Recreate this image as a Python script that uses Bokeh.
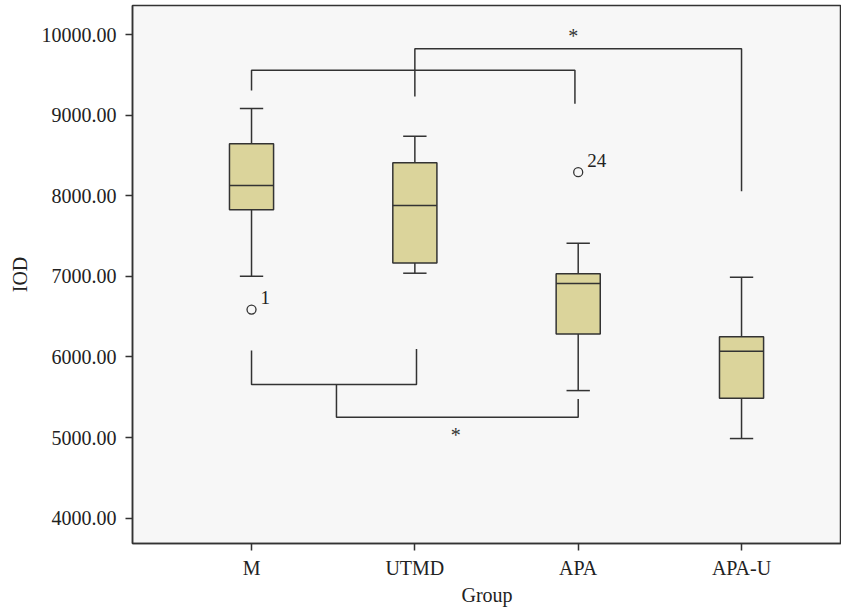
from bokeh.plotting import figure
from bokeh.models import FixedTicker, NumeralTickFormatter, ColumnDataSource
from bokeh.embed import file_html
from bokeh.resources import INLINE
from bokeh.core.properties import value

# ---- data ----
groups = ["M", "UTMD", "APA", "APA-U"]
xpos = [1, 2, 3, 4]
whisk_low = [7001, 7039, 5583, 4988]
q1 = [7825, 7167, 6284, 5489]
median = [8127, 7878, 6911, 6072]
q3 = [8644, 8408, 7031, 6250]
whisk_high = [9082, 8738, 7411, 6989]

outlier_x = [1, 3]
outlier_y = [6588, 8292]
outlier_label = ["1", "24"]

y_ticks = [4000, 5000, 6000, 7000, 8000, 9000, 10000]

# significance brackets (x in group positions, y in IOD units)
bracket_xs = [
    [2, 2, 4, 4],
    [1, 1, 2.98, 2.98],
    [1, 1, 2.01, 2.01],
    [1.52, 1.52, 3.0, 3.0],
]
bracket_ys = [
    [9231, 9823, 9823, 8056],
    [9305, 9557, 9557, 9140],
    [6079, 5658, 5658, 6100],
    [5658, 5252, 5252, 5480],
]
star_x = [2.97, 2.25]
star_y = [9985, 5030]

FONT = "Liberation Serif"
LINE = "#333333"
BOX = "#dbd49b"

p = figure(width=841, height=608, x_range=(0.2713, 4.612), y_range=(3686, 10360),
           output_backend="svg", toolbar_location=None,
           min_border_left=132, min_border_right=0, min_border_top=5, min_border_bottom=65)
p.background_fill_color = "#f7f7f7"
p.border_fill_color = "white"
p.outline_line_color = LINE
p.outline_line_width = 1.5
p.grid.visible = False

hw = 0.135
cw = 0.0715
src = ColumnDataSource(dict(
    x=xpos, left=[x - hw for x in xpos], right=[x + hw for x in xpos],
    cl=[x - cw for x in xpos], cr=[x + cw for x in xpos],
    lo=whisk_low, q1=q1, med=median, q3=q3, hi=whisk_high))

# whiskers
p.segment(x0="x", y0="q3", x1="x", y1="hi", source=src, line_color=LINE, line_width=1.5)
p.segment(x0="x", y0="lo", x1="x", y1="q1", source=src, line_color=LINE, line_width=1.5)
p.segment(x0="cl", y0="hi", x1="cr", y1="hi", source=src, line_color=LINE, line_width=1.5)
p.segment(x0="cl", y0="lo", x1="cr", y1="lo", source=src, line_color=LINE, line_width=1.5)
# boxes
p.quad(left="left", right="right", bottom="q1", top="q3", source=src,
       fill_color=BOX, line_color=LINE, line_width=1.5)
p.segment(x0="left", y0="med", x1="right", y1="med", source=src, line_color=LINE, line_width=1.5)

# outliers
p.scatter(outlier_x, outlier_y, marker="circle", size=9, fill_color=None,
          line_color=LINE, line_width=1.3)
p.text(x=[x + 0.055 for x in outlier_x], y=[v + 150 for v in outlier_y], text=outlier_label,
       text_font=value(FONT), text_font_size="19px", text_color="#222222",
       text_align="left", text_baseline="middle")

# brackets
p.multi_line(xs=bracket_xs, ys=bracket_ys, line_color=LINE, line_width=1.5)
p.text(x=star_x, y=star_y, text=["*", "*"], text_font=value(FONT), text_font_size="20px",
       text_color="#333333", text_align="center", text_baseline="middle")

# axes
p.xaxis.ticker = FixedTicker(ticks=xpos)
p.xaxis.major_label_overrides = {x: g for x, g in zip(xpos, groups)}
p.yaxis.ticker = FixedTicker(ticks=y_ticks)
p.yaxis.formatter = NumeralTickFormatter(format="0.00")
p.xaxis.axis_label = "Group"
p.yaxis.axis_label = "IOD"
for ax in (p.xaxis, p.yaxis):
    ax.axis_line_color = LINE
    ax.axis_line_width = 1.5
    ax.major_tick_line_color = LINE
    ax.major_tick_line_width = 1.5
    ax.major_tick_out = 7
    ax.major_tick_in = 0
    ax.minor_tick_line_color = None
    ax.major_label_text_font = FONT
    ax.major_label_text_font_size = "20px"
    ax.major_label_text_color = "#222222"
    ax.axis_label_text_font = FONT
    ax.axis_label_text_font_size = "20px"
    ax.axis_label_text_font_style = "normal"
    ax.axis_label_text_color = "#222222"
p.xaxis.major_label_standoff = 6
p.xaxis.axis_label_standoff = 2
p.yaxis.major_label_standoff = 9
p.yaxis.axis_label_standoff = 8

open("out.html", "w").write(file_html(p, INLINE))
